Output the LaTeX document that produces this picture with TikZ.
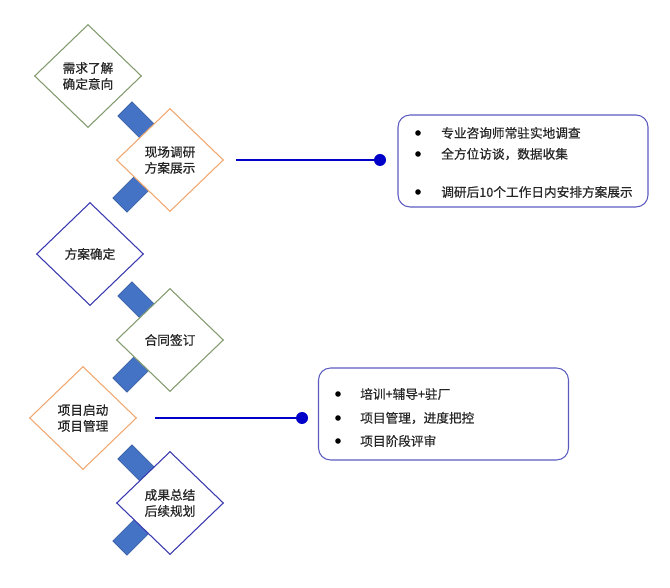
\documentclass[tikz,border=0pt]{standalone}
\usepackage{fontspec}
\newfontfamily\cjk[FakeBold=0.6]{Noto Sans CJK SC}
\usetikzlibrary{shapes.geometric,calc}
\definecolor{stepgreen}{HTML}{849B6F}
\definecolor{steporange}{HTML}{F0A870}
\definecolor{stepblue}{HTML}{3A3AB0}
\definecolor{linkblue}{HTML}{4472C4}
\definecolor{linkedge}{HTML}{2F5597}
\definecolor{lineblue}{HTML}{0000C8}
\definecolor{boxblue}{HTML}{5B5BC0}
\definecolor{textgray}{HTML}{262626}

\begin{document}
\begin{tikzpicture}[x=0.75pt, y=0.75pt,
      stage/.style={diamond, draw=#1, fill=white, line width=0.8pt, minimum width=80.25pt, minimum height=77.25pt, inner sep=0pt, align=center, text=textgray, font=\cjk\fontsize{9.5}{12}\selectfont},
      link/.style={fill=linkblue, draw=linkedge, line width=0.4pt, minimum width=30pt, minimum height=15pt, inner sep=0pt},
      info/.style={draw=boxblue, line width=0.8pt, rounded corners=9pt, minimum width=187.5pt, minimum height=69pt},
      dot/.style={circle, fill=lineblue, minimum size=9pt, inner sep=0pt},
      bullet/.style={circle, fill=black, minimum size=4.2pt, inner sep=0pt},
      item/.style={anchor=west, text=textgray, inner sep=0pt, font=\cjk\fontsize{9.5}{12}\selectfont},
      conn/.style={draw=lineblue, line width=2.2pt}]
    \useasboundingbox (0,0) rectangle (670,588);

    % blue tabs behind the right-hand steps
    \foreach \c in {428, 248, 85} {
      \node[link, rotate=-45] (up\c) at (139, \c+37) {};
      \node[link, rotate=45] (dn\c) at (134, \c-31) {};
    }

    % steps
    \node[stage=stepgreen] (d1) at (88, 512) {需求了解\\确定意向};
    \node[stage=steporange] (d2) at (170, 428) {现场调研\\方案展示};
    \node[stage=stepblue] (d3) at (90, 334) {方案确定};
    \node[stage=stepgreen] (d4) at (170, 248) {合同签订};
    \node[stage=steporange] (d5) at (83, 170) {项目启动\\项目管理};
    \node[stage=stepblue] (d6) at (170, 85) {成果总结\\后续规划};

    % notes
    \node[dot] (p1) at (380, 428) {};
    \draw[conn, shorten <=9pt] (d2.east) -- (p1);
    \node[info] (b1) at (523, 427) {};
    \foreach \y/\t [count=\i] in {455/专业咨询师常驻实地调查, 434/{全方位访谈，数据收集}, 396/调研后10个工作日内安排方案展示} {
      \node[bullet] (s1-\i) at (418, \y) {};
      \node[item] (t1-\i) at (441, \y) {\t};
    }

    \node[dot] (p2) at (302, 170) {};
    \draw[conn, shorten <=13.5pt] (d5.east) -- (p2);
    \node[info] (b2) at (443.5, 174) {};
    \foreach \y/\t [count=\i] in {194/培训+辅导+驻厂, 170/{项目管理，进度把控}, 147/项目阶段评审} {
      \node[bullet] (s2-\i) at (338, \y) {};
      \node[item] (t2-\i) at (360, \y) {\t};
    }
  \end{tikzpicture}
\end{document}
